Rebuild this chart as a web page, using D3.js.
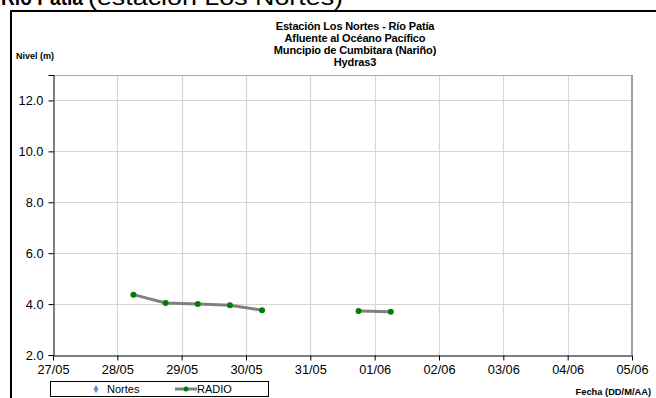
<!DOCTYPE html>
<html><head><meta charset="utf-8">
<script src="https://cdn.jsdelivr.net/npm/d3@7"></script>
<style>html,body{margin:0;padding:0;background:#fff;overflow:hidden}svg{display:block;font-family:"Liberation Sans",Arial,sans-serif}</style>
</head><body>
<script>
// ---- data ----
const pageTitleBold = "Río Patía";
const pageTitleRest = "(estación Los Nortes)";
const titleLines = ["Estación Los Nortes  - Río Patía", "Afluente al Océano Pacífico", "Muncipio de Cumbitara (Nariño)", "Hydras3"];
const yTicks = [2, 4, 6, 8, 10, 12];
const xTickLabels = ["27/05","28/05","29/05","30/05","31/05","01/06","02/06","03/06","04/06","05/06"];
const xTickDates = ["2012-05-27","2012-05-28","2012-05-29","2012-05-30","2012-05-31","2012-06-01","2012-06-02","2012-06-03","2012-06-04","2012-06-05"];
const radioTimes = ["2012-05-28T06:00","2012-05-28T18:00","2012-05-29T06:00","2012-05-29T18:00","2012-05-30T06:00","2012-05-30T18:00","2012-05-31T06:00","2012-05-31T18:00","2012-06-01T06:00"];
const radioValues = [4.37, 4.04, 4.00, 3.95, 3.76, null, null, 3.73, 3.70];
const nortesValues = [];
const seriesNames = ["Nortes", "RADIO"];

const W = 656, H = 398;
const parse = s => new Date(s + (s.length === 10 ? "T00:00:00Z" : ":00Z"));
const svg = d3.select("body").append("svg").attr("width", W).attr("height", H);

const x = d3.scaleUtc().domain([parse(xTickDates[0]), parse(xTickDates[xTickDates.length-1])]).range([53, 632]);
const y = d3.scaleLinear().domain([2, 13]).range([355, 75]);

// page title (partially cut off at the top, as in the reference)
svg.append("text").attr("x", 1).attr("y", 4.5).attr("font-size", 22).attr("font-weight", "bold")
  .attr("textLength", 82).attr("lengthAdjust", "spacingAndGlyphs").text(pageTitleBold);
svg.append("text").attr("x", 88).attr("y", 4.5).attr("font-size", 22)
  .attr("textLength", 255).attr("lengthAdjust", "spacingAndGlyphs").text(pageTitleRest);

// outer frame
svg.append("rect").attr("x", 11).attr("y", 11).attr("width", 800).attr("height", 500).attr("fill", "#fff").attr("stroke", "#000").attr("stroke-width", 2);

// chart title
titleLines.forEach((t, i) => {
  svg.append("text").attr("x", 355).attr("y", 30 + i * 12).attr("text-anchor", "middle")
    .attr("font-size", 11).attr("font-weight", "bold").attr("letter-spacing", -0.15).text(t);
});

// axis titles
svg.append("text").attr("x", 16).attr("y", 59).attr("font-size", 9).attr("font-weight", "bold").text("Nivel (m)");
svg.append("text").attr("x", 651).attr("y", 395).attr("text-anchor", "end").attr("font-size", 9.3).attr("font-weight", "bold").text("Fecha (DD/M/AA)");

// grid
const g = svg.append("g");
g.selectAll(".hg").data(yTicks.filter(v => v > 2)).enter().append("line")
  .attr("x1", 53).attr("x2", 632).attr("y1", d => Math.round(y(d)) + 0.5).attr("y2", d => Math.round(y(d)) + 0.5)
  .attr("stroke", "#d6d6d6").attr("stroke-width", 1.2);
g.selectAll(".vg").data(xTickDates.slice(1, -1)).enter().append("line")
  .attr("x1", d => Math.round(x(parse(d))) + 0.5).attr("x2", d => Math.round(x(parse(d))) + 0.5)
  .attr("y1", 75).attr("y2", 355).attr("stroke", "#d6d6d6").attr("stroke-width", 1.2);
// plot border top and right
g.append("line").attr("x1", 53).attr("x2", 632).attr("y1", 75.5).attr("y2", 75.5).attr("stroke", "#a8a8a8");
g.append("line").attr("x1", 632).attr("x2", 632).attr("y1", 75).attr("y2", 355).attr("stroke", "#a0a0a0").attr("stroke-width", 2);

// axes
const yAxis = d3.axisLeft(y).tickValues(yTicks).tickFormat(d3.format(".1f")).tickSize(5).tickPadding(5);
const ya = svg.append("g").attr("transform", "translate(53.5,0)").call(yAxis);
ya.selectAll("text").attr("font-size", 12.8).attr("fill", "#000").attr("font-family", "Liberation Sans, Arial, sans-serif");
ya.selectAll("line,path").attr("stroke", "#000");

const xAxis = d3.axisBottom(x).tickValues(xTickDates.map(parse)).tickFormat((d, i) => xTickLabels[i]).tickSize(5).tickSizeOuter(0).tickPadding(4);
const xa = svg.append("g").attr("transform", "translate(0,355.5)").call(xAxis);
xa.selectAll("text").attr("font-size", 12.8).attr("fill", "#000").attr("font-family", "Liberation Sans, Arial, sans-serif");
xa.selectAll("line,path").attr("stroke", "#000");

// RADIO series
const pts = radioTimes.map((t, i) => ({ t: parse(t), v: radioValues[i] }));
const line = d3.line().defined(d => d.v != null).x(d => x(d.t)).y(d => y(d.v));
svg.append("path").datum(pts).attr("d", line).attr("fill", "none").attr("stroke", "#808080").attr("stroke-width", 3);
svg.selectAll(".pt").data(pts.filter(d => d.v != null)).enter().append("circle")
  .attr("cx", d => x(d.t)).attr("cy", d => y(d.v)).attr("r", 3).attr("fill", "#008000");

// legend
const lg = svg.append("g");
lg.append("rect").attr("x", 50.5).attr("y", 381.5).attr("width", 218).attr("height", 15).attr("fill", "#fff").attr("stroke", "#000");
lg.append("path").attr("d", d3.symbol(d3.symbolDiamond, 20)()).attr("transform", "translate(96,389)").attr("fill", "#5b8fd6");
lg.append("text").attr("x", 107).attr("y", 393).attr("font-size", 11).text(seriesNames[0]);
lg.append("line").attr("x1", 175).attr("x2", 197).attr("y1", 389).attr("y2", 389).attr("stroke", "#808080").attr("stroke-width", 3);
lg.append("circle").attr("cx", 186).attr("cy", 389).attr("r", 2.5).attr("fill", "#008000");
lg.append("text").attr("x", 197).attr("y", 393).attr("font-size", 11).text(seriesNames[1]);
</script>
</body></html>
